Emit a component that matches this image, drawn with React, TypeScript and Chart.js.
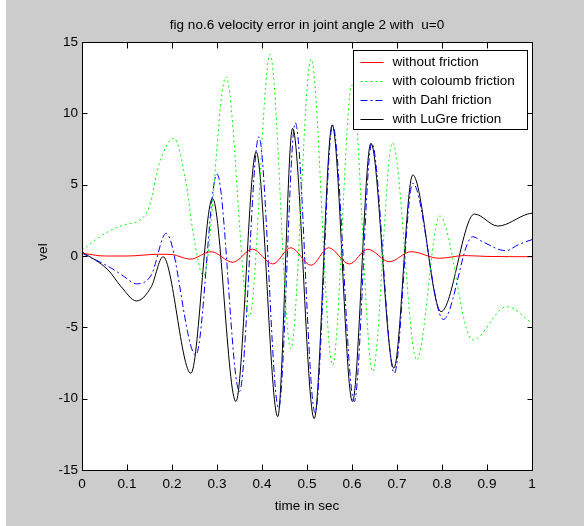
import React, { useEffect, useRef } from "react";
import { Chart, registerables } from "chart.js";

Chart.register(...registerables);

const chartTitle = "fig no.6 velocity error in joint angle 2 with  u=0";
const xAxisTitle = "time in sec";
const yAxisTitle = "vel";

const xTicks = [0, 0.1, 0.2, 0.3, 0.4, 0.5, 0.6, 0.7, 0.8, 0.9, 1];
const xTickLabels = ["0", "0.1", "0.2", "0.3", "0.4", "0.5", "0.6", "0.7", "0.8", "0.9", "1"];
const yTicks = [-15, -10, -5, 0, 5, 10, 15];
const yTickLabels = ["-15", "-10", "-5", "0", "5", "10", "15"];

const seriesLabels = [
  "without friction",
  "with coloumb friction",
  "with Dahl friction",
  "with LuGre friction",
];

// without friction (red)
const tWithout = [0, 0.01, 0.05, 0.1, 0.17, 0.2, 0.24, 0.287, 0.335, 0.379, 0.424, 0.464, 0.509, 0.548, 0.594, 0.635, 0.683, 0.731, 0.794, 0.85, 0.9, 1.0];
const vWithout = [0.2, 0.15, 0.0, 0.0, 0.12, 0.1, -0.22, 0.3, -0.44, 0.48, -0.56, 0.58, -0.65, 0.58, -0.56, 0.47, -0.4, 0.3, -0.16, 0.03, -0.03, -0.05];

// coloumb friction (green)
const tCoulomb = [0, 0.058, 0.1, 0.128, 0.15, 0.172, 0.204, 0.232, 0.247, 0.27, 0.32, 0.372, 0.418, 0.464, 0.509, 0.557, 0.6, 0.646, 0.69, 0.744, 0.795, 0.868, 0.944, 1.0];
const vCoulomb = [0.42, 1.7, 2.24, 2.5, 3.5, 6.5, 8.25, 5.0, 1.6, -1.4, 12.57, -4.25, 14.13, -6.5, 13.8, -7.64, 12.0, -8.1, 7.94, -7.29, 2.8, -5.89, -3.55, -4.7];

// Dahl friction (blue)
const tDahl = [0, 0.065, 0.093, 0.121, 0.154, 0.187, 0.253, 0.3, 0.35, 0.393, 0.437, 0.474, 0.518, 0.557, 0.605, 0.644, 0.694, 0.735, 0.803, 0.868, 0.89, 0.942, 0.97, 1.0];
const vDahl = [0.2, -0.85, -1.43, -1.95, -1.33, 1.59, -6.94, 5.75, -9.5, 8.36, -10.67, 9.34, -11.0, 9.18, -10.2, 7.9, -8.22, 5.1, -4.45, 1.35, 1.0, 0.37, 0.8, 1.15];

// LuGre friction (black)
const tLuGre = [0, 0.058, 0.087, 0.121, 0.154, 0.18, 0.242, 0.29, 0.342, 0.387, 0.435, 0.468, 0.516, 0.556, 0.601, 0.642, 0.693, 0.735, 0.798, 0.872, 0.924, 0.99, 1.0];
const vLuGre = [0.3, -0.98, -2.15, -3.15, -2.15, -0.05, -8.22, 4.04, -10.2, 7.3, -11.26, 8.95, -11.4, 9.18, -10.2, 7.9, -7.87, 5.68, -3.9, 2.94, 2.1, 2.94, 3.0];

const FONT_FAMILY = "'Liberation Sans', Arial, Helvetica, sans-serif";

const toPoints = (t: number[], v: number[]) => t.map((x, i) => ({ x, y: v[i] }));

const matlabPlugin = {
  id: "matlabFrame",
  beforeDraw(chart: any) {
    const { ctx, width, height } = chart;
    ctx.save();
    ctx.fillStyle = "#ffffff";
    ctx.fillRect(0, 0, width, height);
    ctx.fillStyle = "#cccccc";
    ctx.fillRect(6, 0, width - 6, height);
    const a = chart.chartArea;
    ctx.fillStyle = "#ffffff";
    ctx.fillRect(a.left, a.top, a.right - a.left, a.bottom - a.top);
    ctx.restore();
  },
  afterDatasetsDraw(chart: any) {
    const { ctx } = chart;
    const a = chart.chartArea;
    const xs = chart.scales.x;
    const ys = chart.scales.y;
    const L = Math.round(a.left) + 0.5;
    const R = Math.round(a.right) + 0.5;
    const T = Math.round(a.top) + 0.5;
    const B = Math.round(a.bottom) + 0.5;
    ctx.save();
    ctx.strokeStyle = "#000000";
    ctx.lineWidth = 1;
    ctx.setLineDash([]);
    ctx.beginPath();
    ctx.rect(L, T, R - L, B - T);
    for (const v of xTicks) {
      const px = Math.round(xs.getPixelForValue(v)) + 0.5;
      ctx.moveTo(px, B);
      ctx.lineTo(px, B - 6);
      ctx.moveTo(px, T);
      ctx.lineTo(px, T + 6);
    }
    for (const v of yTicks) {
      const py = Math.round(ys.getPixelForValue(v)) + 0.5;
      ctx.moveTo(L, py);
      ctx.lineTo(L + 5, py);
      ctx.moveTo(R, py);
      ctx.lineTo(R - 5, py);
    }
    ctx.stroke();
    ctx.restore();
  },
  afterDraw(chart: any) {
    const { ctx } = chart;
    const a = chart.chartArea;
    const cx = (a.left + a.right) / 2;
    ctx.save();
    ctx.fillStyle = "#000000";
    ctx.textAlign = "center";
    ctx.textBaseline = "middle";
    ctx.font = `13.5px ${FONT_FAMILY}`;
    ctx.fillText(chartTitle, cx, a.top - 17);
    ctx.fillText(xAxisTitle, cx, a.bottom + 36);
    ctx.save();
    ctx.translate(43, (a.top + a.bottom) / 2 - 4);
    ctx.rotate(-Math.PI / 2);
    ctx.fillText(yAxisTitle, 0, 0);
    ctx.restore();

    // legend box in the upper right corner
    const boxR = Math.round(a.right - 5) + 0.5;
    const boxL = Math.round(a.right - 179) + 0.5;
    const boxT = Math.round(a.top + 8) + 0.5;
    const boxB = Math.round(a.top + 87) + 0.5;
    ctx.fillStyle = "#ffffff";
    ctx.fillRect(boxL, boxT, boxR - boxL, boxB - boxT);
    ctx.strokeStyle = "#000000";
    ctx.lineWidth = 1;
    ctx.strokeRect(boxL, boxT, boxR - boxL, boxB - boxT);
    ctx.textAlign = "left";
    ctx.font = `13.5px ${FONT_FAMILY}`;
    chart.data.datasets.forEach((ds: any, i: number) => {
      const y = Math.round(boxT + 11.5 + i * 19) + 0.5;
      ctx.save();
      ctx.strokeStyle = ds.borderColor;
      ctx.lineWidth = 1;
      ctx.setLineDash(ds.borderDash || []);
      ctx.beginPath();
      ctx.moveTo(boxL + 7, y);
      ctx.lineTo(boxL + 30, y);
      ctx.stroke();
      ctx.restore();
      ctx.fillStyle = "#000000";
      ctx.fillText(ds.label, boxL + 39, y);
    });
    ctx.restore();
  },
};

export default function App() {
  const canvasRef = useRef<HTMLCanvasElement | null>(null);

  useEffect(() => {
    const canvas = canvasRef.current;
    if (!canvas) return;
    const tickFont = { family: FONT_FAMILY, size: 13.5 };
    const chart = new Chart(canvas, {
      type: "line",
      data: {
        datasets: [
          {
            label: seriesLabels[0],
            data: toPoints(tWithout, vWithout),
            borderColor: "#ff0000",
            borderWidth: 1,
            borderDash: [],
          },
          {
            label: seriesLabels[1],
            data: toPoints(tCoulomb, vCoulomb),
            borderColor: "#00ff00",
            borderWidth: 1,
            borderDash: [2, 3],
          },
          {
            label: seriesLabels[2],
            data: toPoints(tDahl, vDahl),
            borderColor: "#0000ff",
            borderWidth: 1,
            borderDash: [7, 3, 2, 3],
          },
          {
            label: seriesLabels[3],
            data: toPoints(tLuGre, vLuGre),
            borderColor: "#000000",
            borderWidth: 1,
            borderDash: [],
          },
        ],
      },
      options: {
        animation: false,
        responsive: false,
        maintainAspectRatio: false,
        layout: { padding: { top: 42, right: 52, left: 0, bottom: 0 } },
        elements: {
          point: { radius: 0, hoverRadius: 0 },
          line: { cubicInterpolationMode: "monotone", fill: false },
        },
        plugins: {
          legend: { display: false },
          title: { display: false },
          tooltip: { enabled: false },
        },
        events: [],
        scales: {
          x: {
            type: "linear",
            min: 0,
            max: 1,
            afterBuildTicks: (s: any) => {
              s.ticks = xTicks.map((value) => ({ value }));
            },
            afterFit: (s: any) => {
              s.height = 56;
            },
            ticks: {
              callback: (_v: any, i: number) => xTickLabels[i],
              font: tickFont,
              color: "#000000",
              padding: 6,
              maxRotation: 0,
              autoSkip: false,
            },
            grid: { display: false, drawTicks: false },
            border: { display: false },
          },
          y: {
            type: "linear",
            min: -15,
            max: 15,
            afterBuildTicks: (s: any) => {
              s.ticks = yTicks.map((value) => ({ value }));
            },
            afterFit: (s: any) => {
              s.width = 82;
            },
            ticks: {
              callback: (_v: any, i: number) => yTickLabels[i],
              font: tickFont,
              color: "#000000",
              padding: 4,
              autoSkip: false,
            },
            grid: { display: false, drawTicks: false },
            border: { display: false },
          },
        },
      },
      plugins: [matlabPlugin],
    });
    return () => chart.destroy();
  }, []);

  return (
    <div style={{ position: "fixed", left: 0, top: 0, width: 584, height: 526 }}>
      <canvas ref={canvasRef} width={584} height={526} style={{ display: "block", width: 584, height: 526 }} />
    </div>
  );
}
